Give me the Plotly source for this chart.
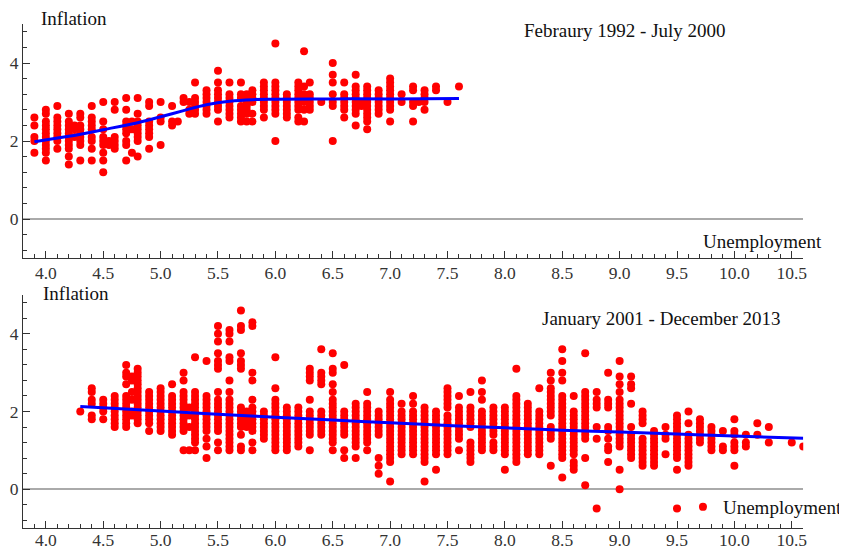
import plotly.graph_objects as go

# ---------------- data: Feb 1992 - Jul 2000 (top panel) ----------------
top_unemp = [3.9, 4.0, 4.1, 4.2, 4.25, 4.3, 4.4, 4.5, 4.55, 4.6, 4.7, 4.75, 4.8, 4.9,
             5.0, 5.1, 5.15, 5.2, 5.25, 5.3, 5.4, 5.5, 5.6, 5.7, 5.75, 5.8, 5.9, 6.0,
             6.1, 6.2, 6.25, 6.3, 6.4, 6.5, 6.6, 6.7, 6.75, 6.8, 6.9, 7.0, 7.1, 7.2,
             7.25, 7.3, 7.4, 7.5, 7.6]
top_infl = [
    [2.6, 2.4, 2.1, 2.0, 1.7],
    [2.8, 2.7, 2.5, 2.4, 2.3, 2.2, 2.1, 2.0, 1.9, 1.8, 1.7, 1.5],
    [2.9, 2.6, 2.5, 2.4, 2.3, 2.2, 2.1, 2.0, 1.8],
    [2.7, 2.5, 2.4, 2.3, 2.2, 2.1, 2.0, 1.9, 1.8, 1.6, 1.4],
    [2.4, 2.3, 2.1],
    [2.7, 2.6, 2.4, 2.3, 2.2, 2.1, 2.0, 1.9, 1.5],
    [2.9, 2.6, 2.5, 2.4, 2.3, 2.1, 2.0, 1.8, 1.5],
    [3.0, 2.5, 2.3, 2.1, 2.0, 1.9, 1.7, 1.5, 1.2],
    [2.0, 1.9],
    [3.0, 2.8, 2.1, 2.0, 1.9, 1.8],
    [3.1, 2.8, 2.5, 2.4, 2.3, 2.2, 2.0, 1.9, 1.5],
    [2.5, 2.3, 1.7],
    [3.1, 2.7, 2.5, 2.4, 2.3, 2.2, 2.1, 2.0, 1.6],
    [3.0, 2.9, 2.5, 2.4, 2.3, 2.2, 2.1, 1.8],
    [3.0, 2.6, 2.5, 1.9],
    [2.9, 2.5, 2.4],
    [2.5],
    [3.1, 3.0],
    [3.0, 2.8, 2.7],
    [3.5, 3.1, 3.0, 2.9, 2.8, 2.7],
    [3.3, 3.2, 3.1, 3.0, 2.9, 2.8, 2.7],
    [3.8, 3.5, 3.3, 3.2, 3.1, 3.0, 2.9, 2.8, 2.5],
    [3.5, 3.2, 3.1, 3.0, 2.9, 2.8, 2.7, 2.6],
    [3.5, 3.2, 3.1, 2.9, 2.8, 2.7, 2.6, 2.5],
    [3.2, 3.1, 3.0, 2.9, 2.8, 2.7, 2.5],
    [3.3, 3.2, 3.1, 3.0, 2.7, 2.5],
    [3.5, 3.4, 3.3, 3.2, 3.1, 3.0, 2.9, 2.8, 2.6],
    [4.5, 3.5, 3.4, 3.3, 3.2, 3.1, 3.0, 2.9, 2.8, 2.7, 2.0],
    [3.2, 3.1, 3.0, 2.9, 2.8, 2.7, 2.6],
    [3.5, 3.4, 3.3, 3.2, 3.1, 3.0, 2.9, 2.8, 2.6, 2.5],
    [4.3, 3.4, 3.2, 3.0, 2.8, 2.5],
    [3.5, 3.2, 3.1, 3.0, 2.9, 2.8],
    [3.0],
    [4.0, 3.7, 3.5, 3.2, 3.0, 2.9, 2.0],
    [3.5, 3.2, 3.1, 3.0, 2.9, 2.8, 2.6],
    [3.7, 3.4, 3.3, 3.2, 3.1, 3.0, 2.9, 2.8, 2.7, 2.4],
    [3.0, 2.9],
    [3.4, 3.3, 3.2, 3.1, 3.0, 2.9, 2.8, 2.7, 2.6, 2.5, 2.3],
    [3.3, 3.2, 3.1, 3.0, 2.9, 2.8, 2.7],
    [3.6, 3.5, 3.4, 3.3, 3.2, 3.1, 3.0, 2.9, 2.8, 2.5],
    [3.2, 3.0],
    [3.4, 3.3, 3.0, 2.9, 2.5],
    [3.0],
    [3.3, 3.2, 3.1, 3.0, 2.8],
    [3.4, 3.3],
    [3.0],
    [3.4],
]
top_fit_x = [3.9, 4.2, 4.5, 4.8, 5.0, 5.2, 5.4, 5.6, 5.8, 6.0, 6.5, 7.0, 7.6]
top_fit_y = [1.98, 2.12, 2.29, 2.47, 2.62, 2.78, 2.93, 3.02, 3.06, 3.07, 3.08, 3.08, 3.09]

# ---------------- data: Jan 2001 - Dec 2013 (bottom panel) ----------------
bot_unemp = [4.3, 4.4, 4.5, 4.6, 4.7, 4.75, 4.8, 4.9, 5.0, 5.1, 5.2, 5.25, 5.3, 5.4,
             5.5, 5.6, 5.7, 5.75, 5.8, 5.9, 6.0, 6.1, 6.2, 6.3, 6.4, 6.5, 6.6, 6.7,
             6.8, 6.9, 7.0, 7.1, 7.2, 7.3, 7.4, 7.5, 7.6, 7.7, 7.8, 7.9, 8.0, 8.1,
             8.2, 8.3, 8.4, 8.5, 8.6, 8.7, 8.8, 8.9, 9.0, 9.1, 9.2, 9.3, 9.4, 9.5,
             9.6, 9.7, 9.8, 9.9, 10.0, 10.1, 10.2, 10.3, 10.5, 10.6]
bot_infl = [
    [2.0],
    [2.6, 2.5, 2.3, 2.2, 1.9, 1.8],
    [2.3, 2.2, 2.1, 2.0, 1.8],
    [2.4, 2.3, 2.2, 2.1, 2.0, 1.9, 1.8, 1.7, 1.6],
    [3.2, 3.0, 2.9, 2.7, 2.4, 2.3, 2.2, 2.1, 2.0, 1.9, 1.8, 1.7, 1.6],
    [2.9, 2.8, 2.5, 2.3, 2.0, 1.9],
    [3.1, 3.0, 2.9, 2.8, 2.7, 2.6, 2.5, 2.4, 2.3, 2.2, 2.1, 2.0, 1.9, 1.8, 1.7],
    [2.5, 2.4, 2.3, 2.2, 2.1, 2.0, 1.9, 1.8, 1.7, 1.5],
    [2.6, 2.5, 2.4, 2.3, 2.2, 2.1, 2.0, 1.9, 1.8, 1.7, 1.6, 1.5],
    [2.7, 2.4, 2.3, 2.2, 2.1, 2.0, 1.9, 1.8, 1.7, 1.6, 1.5, 1.4],
    [3.0, 2.8, 2.5, 2.4, 2.3, 2.2, 2.1, 2.0, 1.9, 1.8, 1.7, 1.6, 1.5, 1.0],
    [2.1, 1.9, 1.6, 1.0],
    [3.4, 2.5, 2.4, 2.3, 2.2, 2.1, 2.0, 1.9, 1.8, 1.7, 1.6, 1.5, 1.4, 1.3, 1.2, 1.0],
    [3.3, 2.4, 2.3, 2.2, 2.1, 2.0, 1.9, 1.8, 1.7, 1.6, 1.5, 1.3, 1.1, 0.8],
    [4.2, 4.0, 3.8, 3.5, 3.3, 3.2, 3.1, 2.5, 2.3, 2.2, 2.1, 2.0, 1.9, 1.8, 1.7, 1.6, 1.5, 1.2, 1.0],
    [4.1, 4.0, 3.8, 3.4, 3.3, 2.8, 2.5, 2.3, 2.2, 2.1, 2.0, 1.9, 1.8, 1.7, 1.6, 1.5, 1.4, 1.3, 1.2, 1.1, 1.0],
    [4.6, 4.2, 4.1, 3.5, 3.3, 3.2, 3.1, 2.1, 2.0, 1.9, 1.8, 1.7, 1.6, 1.4, 1.1, 1.0],
    [2.0, 1.9, 1.8, 1.7, 1.6],
    [4.3, 4.2, 3.0, 2.8, 2.3, 2.1, 2.0, 1.9, 1.8, 1.7, 1.6, 1.5, 1.2, 1.0],
    [2.0, 1.9, 1.8, 1.7, 1.6, 1.5, 1.4, 1.3],
    [3.4, 2.6, 2.3, 2.2, 2.1, 2.0, 1.9, 1.8, 1.7, 1.6, 1.5, 1.4, 1.3, 1.2, 1.1, 1.0],
    [2.1, 2.0, 1.9, 1.8, 1.7, 1.6, 1.5, 1.4, 1.3, 1.2, 1.1, 1.0],
    [2.1, 2.0, 1.9, 1.8, 1.7, 1.6, 1.5, 1.4, 1.3, 1.2, 1.1],
    [3.1, 3.0, 2.9, 2.8, 2.3, 2.0, 1.9, 1.8, 1.7, 1.6, 1.5, 1.4, 1.0],
    [3.6, 3.0, 2.9, 2.8, 2.7, 2.0, 1.9, 1.8, 1.7, 1.6, 1.5, 1.4],
    [3.5, 3.1, 3.0, 2.7, 2.5, 2.3, 2.2, 2.1, 2.0, 1.9, 1.8, 1.7, 1.6, 1.5, 1.4, 1.3, 1.2, 1.0],
    [3.2, 2.0, 1.9, 1.8, 1.7, 1.6, 1.5, 1.4, 1.0, 0.8],
    [2.2, 2.1, 2.0, 1.9, 1.8, 1.7, 1.6, 1.5, 1.4, 1.3, 1.2, 1.1, 0.8],
    [2.5, 2.2, 2.1, 2.0, 1.9, 1.8, 1.7, 1.6, 1.5, 1.4, 1.3, 1.2, 1.0],
    [2.0, 1.9, 1.8, 1.7, 1.6, 1.5, 1.4, 0.8, 0.6, 0.4],
    [2.5, 2.3, 2.2, 2.1, 2.0, 1.9, 1.8, 1.7, 1.6, 1.5, 1.4, 1.3, 1.2, 1.1, 1.0, 0.9, 0.8, 0.7, 0.2],
    [2.2, 2.0, 1.9, 1.8, 1.7, 1.6, 1.5, 1.4, 1.3, 1.2, 1.1, 1.0, 0.9],
    [2.4, 2.2, 2.0, 1.9, 1.8, 1.7, 1.6, 1.5, 1.4, 1.3, 1.2, 1.1, 1.0, 0.9],
    [2.1, 2.0, 1.9, 1.8, 1.7, 1.6, 1.5, 1.4, 1.3, 1.2, 1.1, 1.0, 0.9, 0.8, 0.7, 0.2],
    [2.0, 1.9, 1.8, 1.7, 1.6, 1.5, 1.4, 1.3, 1.2, 1.1, 1.0, 0.9, 0.5],
    [2.6, 2.5, 2.4, 2.3, 2.2, 2.1, 1.9, 1.8, 1.7, 1.6, 1.5, 1.4, 1.3, 1.2, 1.1, 1.0, 0.9],
    [2.4, 2.1, 2.0, 1.9, 1.8, 1.7, 1.6, 1.5, 1.4, 1.3, 1.0],
    [2.5, 2.1, 2.0, 1.9, 1.8, 1.7, 1.6, 1.2, 1.1, 1.0, 0.9, 0.8, 0.7],
    [2.8, 2.5, 2.3, 2.0, 1.9, 1.8, 1.7, 1.6, 1.5, 1.4, 1.3, 1.2, 1.1, 1.0],
    [2.1, 2.0, 1.9, 1.8, 1.7, 1.6, 1.5, 1.4, 1.2, 1.1, 1.0],
    [2.1, 2.0, 1.9, 1.8, 1.7, 1.6, 1.5, 1.4, 1.3, 1.2, 1.1, 1.0, 0.9, 0.5],
    [3.1, 2.4, 2.3, 2.2, 2.1, 2.0, 1.9, 1.8, 1.7, 1.6, 1.5, 1.4, 1.3, 1.2, 1.1, 1.0, 0.9, 0.8, 0.7],
    [2.2, 2.1, 2.0, 1.9, 1.8, 1.7, 1.6, 1.5, 1.4, 1.3, 1.2, 1.1, 1.0, 0.9],
    [2.6, 2.0, 1.9, 1.8, 1.7, 1.6, 1.5, 1.4, 1.3, 1.2, 1.1, 1.0, 0.9],
    [3.0, 2.8, 2.6, 2.5, 2.4, 2.3, 2.2, 2.1, 2.0, 1.9, 1.6, 1.5, 1.4, 1.3, 0.6],
    [3.6, 3.3, 3.0, 2.8, 2.4, 2.3, 2.2, 2.1, 2.0, 1.9, 1.8, 1.7, 1.6, 1.5, 1.4, 1.3, 1.2, 1.1, 1.0, 0.9, 0.8, 0.3],
    [2.4, 2.0, 1.9, 1.8, 1.7, 1.6, 1.5, 1.4, 1.3, 1.2, 1.1, 1.0, 0.9, 0.7, 0.6, 0.5],
    [3.5, 2.5, 2.4, 2.3, 2.2, 2.1, 2.0, 1.9, 1.8, 1.7, 1.6, 1.5, 1.4, 1.3, 0.8, 0.1],
    [2.5, 2.3, 2.2, 2.1, 1.6, 1.3, -0.5],
    [3.0, 2.3, 2.2, 2.1, 1.6, 1.5, 1.3, 1.1, 1.0, 0.7],
    [3.3, 2.9, 2.7, 2.5, 2.3, 2.2, 2.1, 2.0, 1.9, 1.8, 1.7, 1.6, 1.5, 1.4, 1.3, 1.2, 1.1, 0.5, 0.0],
    [2.9, 2.7, 2.6, 2.2, 1.6, 1.4, 1.3, 1.2, 1.1, 1.0, 0.9, 0.8],
    [2.0, 1.9, 1.8, 1.7, 1.3, 1.2, 1.1, 1.0, 0.9, 0.8, 0.7, 0.6],
    [1.5, 1.4, 1.3, 1.2, 1.1, 1.0, 0.9, 0.8, 0.7, 0.6],
    [1.6, 1.4, 1.3, 0.9],
    [1.9, 1.8, 1.7, 1.6, 1.5, 1.4, 1.3, 1.2, 1.1, 1.0, 0.9, 0.8, 0.5, -0.5],
    [2.0, 1.7, 1.4, 1.3, 1.2, 1.1, 1.0, 0.9, 0.8, 0.7, 0.6],
    [1.8, 1.7, 1.6, 1.5, 1.4, 1.3, 1.2],
    [1.6, 1.5, 1.4, 1.3, 1.2, 1.1, 1.0],
    [1.5, 1.1, 1.0],
    [1.8, 1.5, 1.4, 1.2, 1.1, 1.0, 0.6],
    [1.4, 1.2, 1.1],
    [1.7, 1.4],
    [1.6, 1.2],
    [1.2],
    [1.1],
]
bot_fit_x = [4.3, 5.0, 5.5, 6.0, 6.5, 7.0, 7.5, 8.0, 8.5, 9.0, 9.5, 10.0, 10.6]
bot_fit_y = [2.13, 2.01, 1.93, 1.85, 1.78, 1.71, 1.64, 1.58, 1.52, 1.47, 1.42, 1.37, 1.31]

x_ticks = [4.0, 4.5, 5.0, 5.5, 6.0, 6.5, 7.0, 7.5, 8.0, 8.5, 9.0, 9.5, 10.0, 10.5]
y_ticks = [0, 2, 4]


def flatten(us, vals):
    xs, ys = [], []
    for u, col in zip(us, vals):
        for v in col:
            xs.append(u)
            ys.append(v)
    return xs, ys


OFF = 8  # page body margin
W, H = 847 - OFF, 549 - OFF
FONT = "Liberation Serif"
RED = "#ff0000"
BLUE = "#0000ff"


def px(x):
    return (x - OFF) / W


def py(y):
    return 1 - (y - OFF) / H


tx, ty = flatten(top_unemp, top_infl)
bx, by = flatten(bot_unemp, bot_infl)

fig = go.Figure()
fig.add_trace(go.Scatter(x=tx, y=ty, mode="markers", xaxis="x", yaxis="y",
                         marker=dict(color=RED, size=8, line=dict(width=0)),
                         showlegend=False))
fig.add_trace(go.Scatter(x=top_fit_x, y=top_fit_y, mode="lines", xaxis="x", yaxis="y",
                         line=dict(color=BLUE, width=3, shape="spline"), showlegend=False))
fig.add_trace(go.Scatter(x=bx, y=by, mode="markers", xaxis="x2", yaxis="y2",
                         marker=dict(color=RED, size=8, line=dict(width=0)),
                         name="Unemployment", showlegend=True))
fig.add_trace(go.Scatter(x=bot_fit_x, y=bot_fit_y, mode="lines", xaxis="x2", yaxis="y2",
                         line=dict(color=BLUE, width=3, shape="spline"), showlegend=False))

x_dom = [px(23), px(808)]
top_dom = [py(258), py(24)]
bot_dom = [py(528), py(295)]

axis_common = dict(showgrid=False, showline=True, linecolor="#333333", linewidth=1,
                   ticks="inside", tickcolor="#333333", tickwidth=1,
                   tickfont=dict(family=FONT, size=17.5, color="#333333"),
                   automargin=False)


def xaxis(anchor, standoff):
    return dict(axis_common, domain=x_dom, range=[3.8, 10.6], anchor=anchor,
                tickvals=x_ticks, ticktext=[f"{t:.1f}" for t in x_ticks], ticklen=7,
                zeroline=False, ticklabelstandoff=standoff,
                minor=dict(dtick=0.1, tick0=0, ticks="inside", ticklen=4,
                           tickcolor="#333333", showgrid=False))


def yaxis(anchor, dom):
    return dict(axis_common, domain=dom, range=[-1, 5], anchor=anchor,
                tickvals=y_ticks, ticklen=7,
                zeroline=True, zerolinecolor="#aaaaaa", zerolinewidth=1.5,
                minor=dict(dtick=0.4, tick0=0, ticks="inside", ticklen=4,
                           tickcolor="#333333", showgrid=False))


txt = dict(family=FONT, size=19, color="#111111")
annotations = [
    dict(text="Inflation", x=px(39), y=py(18), xref="paper", yref="paper",
         xanchor="left", yanchor="middle", showarrow=False, font=txt),
    dict(text="Febraury 1992 - July 2000", x=px(525), y=py(31), xref="paper",
         yref="paper", xanchor="left", yanchor="middle", showarrow=False, font=txt),
    dict(text="Unemployment", x=px(829), y=py(241), xref="paper", yref="paper",
         xanchor="right", yanchor="middle", showarrow=False, font=txt),
    dict(text="Inflation", x=px(41), y=py(293), xref="paper", yref="paper",
         xanchor="left", yanchor="middle", showarrow=False, font=txt),
    dict(text="January 2001 - December 2013", x=px(543), y=py(318), xref="paper",
         yref="paper", xanchor="left", yanchor="middle", showarrow=False, font=txt),
]

fig.update_layout(
    width=W, height=H,
    margin=dict(l=0, r=0, t=0, b=0),
    paper_bgcolor="white", plot_bgcolor="white",
    xaxis=xaxis("y", -1), yaxis=yaxis("x", top_dom),
    xaxis2=xaxis("y2", -4), yaxis2=yaxis("x2", bot_dom),
    annotations=annotations,
    showlegend=True,
    legend=dict(x=px(687), y=py(507), xanchor="left", yanchor="middle",
                bgcolor="rgba(0,0,0,0)", font=txt, itemwidth=30,
                tracegroupgap=0),
    font=dict(family=FONT),
)

fig.write_html("out.html")
